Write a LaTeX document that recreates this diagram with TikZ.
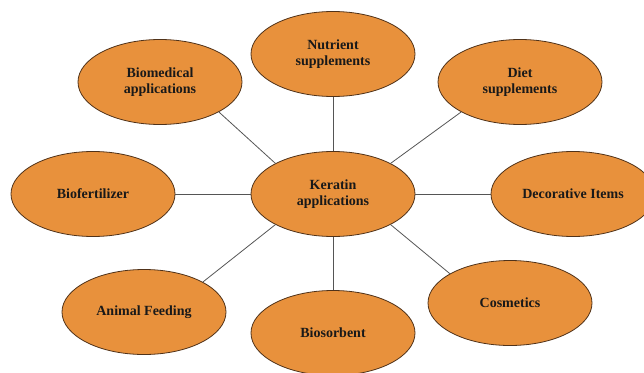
\documentclass[tikz,border=0pt]{standalone}
\usepackage{fontspec}
\setmainfont{Liberation Serif}
\usetikzlibrary{shapes.geometric}
\definecolor{orfill}{RGB}{232,145,60}
\definecolor{orline}{RGB}{80,50,25}
\definecolor{conn}{RGB}{85,85,85}
\tikzset{
  app/.style={ellipse, draw=orline, line width=0.8pt, fill=orfill, minimum width=164pt, minimum height=85pt, inner sep=0pt, align=center, font=\fontsize{14}{16}\selectfont\bfseries, text=black!90},
  link/.style={draw=conn, line width=0.8pt}
}
\begin{document}
\begin{tikzpicture}[x=1pt,y=-1pt]
\useasboundingbox (0,0) rectangle (644,372);
\clip (0,0) rectangle (644,372);
\node[app] (k) at (333,194) {Keratin\\applications};
\node[app] (n) at (333,54) {Nutrient\\supplements};
\node[app] (b) at (160,82) {Biomedical\\applications};
\node[app] (d) at (520,82) {Diet\\supplements};
\node[app] (f) at (93,194) {Biofertilizer};
\node[app] (o) at (573,194) {Decorative Items};
\node[app] (a) at (144,312) {Animal Feeding};
\node[app] (s) at (333,333) {Biosorbent};
\node[app] (c) at (510,303) {Cosmetics};
\draw[link] (k.north) -- (n.south);
\draw[link] (k.south) -- (s.south |- s.north);
\draw[link] (k.west) -- (f.east);
\draw[link] (k.east) -- (o.west);
\draw[link] (k.152) -- (b.333);
\draw[link] (k.28) -- (d.207);
\draw[link] (k.208) -- (a.27);
\draw[link] (k.332) -- (c.154);
\end{tikzpicture}
\end{document}
